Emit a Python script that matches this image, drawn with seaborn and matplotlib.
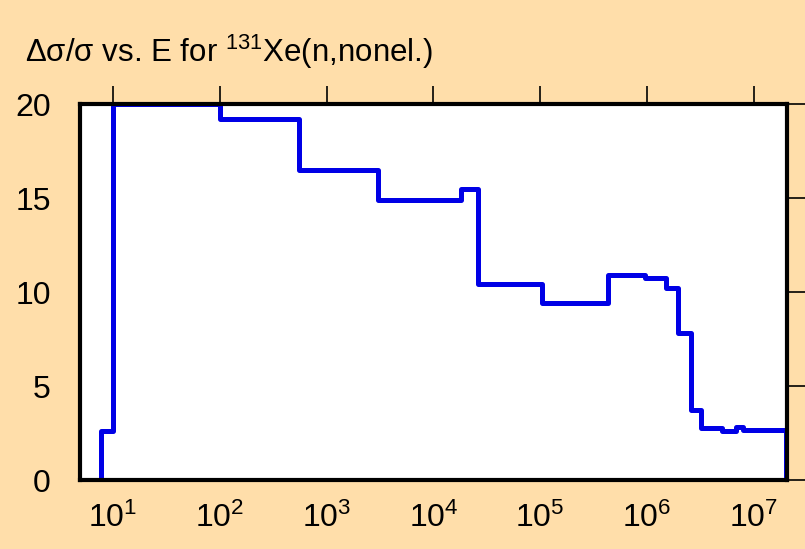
import matplotlib
matplotlib.use("Agg")
import matplotlib.pyplot as plt
import seaborn as sns
import pandas as pd
import numpy as np
from matplotlib.ticker import FixedLocator, NullLocator, FuncFormatter

# Bin edges (eV) and relative uncertainty values (%)
energy_edges = [7.7, 10, 100, 550, 3000, 1.8e4, 2.6e4, 1.05e5, 4.3e5, 9.5e5,
                1.5e6, 1.95e6, 2.6e6, 3.2e6, 5.1e6, 6.8e6, 7.9e6, 2e7]
rel_unc = [2.6, 20, 19.2, 16.5, 14.9, 15.5, 10.4, 9.4, 10.9, 10.75,
           10.2, 7.8, 3.7, 2.75, 2.6, 2.8, 2.65]
y_ticks = [0, 5, 10, 15, 20]
x_ticks = [1e1, 1e2, 1e3, 1e4, 1e5, 1e6, 1e7]

sns.set_style("white")
plt.rcParams["font.family"] = ["Liberation Sans", "DejaVu Sans"]
plt.rcParams["mathtext.fontset"] = "custom"
plt.rcParams["mathtext.rm"] = "Liberation Sans"
plt.rcParams["mathtext.it"] = "Liberation Sans"
plt.rcParams["mathtext.default"] = "regular"
plt.rcParams["text.color"] = "black"
plt.rcParams["xtick.color"] = "black"
plt.rcParams["ytick.color"] = "black"

bg = "#FFDEAA"
fig = plt.figure(figsize=(8.05, 5.49), dpi=100, facecolor=bg)
ax = fig.add_axes([80/805, 1-480/549, (787-80)/805, (480-104)/549])
ax.set_facecolor("white")

# build step data: start at 0, values, end at 0
xs = [energy_edges[0]] + energy_edges + [energy_edges[-1]]
ys = [0] + rel_unc + [rel_unc[-1], 0]
df = pd.DataFrame({"E": xs, "u": ys})
sns.lineplot(data=df, x="E", y="u", ax=ax, drawstyle="steps-post",
             color="#0000E6", linewidth=3.6, sort=False, estimator=None)

ax.set_xscale("log")
ax.set_xlim(4.9, 2.05e7)
ax.set_ylim(0, 20)
ax.xaxis.set_major_locator(FixedLocator(x_ticks))
ax.xaxis.set_minor_locator(NullLocator())
ax.yaxis.set_major_locator(FixedLocator(y_ticks))
ax.xaxis.set_major_formatter(FuncFormatter(lambda v, p: r"$10^{%d}$" % round(np.log10(v))))
ax.yaxis.set_major_formatter(FuncFormatter(lambda v, p: "%d" % v))
ax.set_xlabel("")
ax.set_ylabel("")
ax.tick_params(axis="both", which="major", direction="out", length=13, width=1.2,
               labelsize=23, top=True, right=True, colors="black")
ax.tick_params(axis="x", pad=3)
ax.tick_params(axis="y", pad=8)
for s in ax.spines.values():
    s.set_linewidth(3)
    s.set_color("black")
    s.set_visible(True)

fig.text(25/805, 1-62/549, r"$\Delta\sigma/\sigma$ vs. E for $^{131}$Xe(n,nonel.)",
         fontsize=22.5, ha="left", va="baseline", color="black")

fig.savefig("out.png", dpi=100, facecolor=bg)
